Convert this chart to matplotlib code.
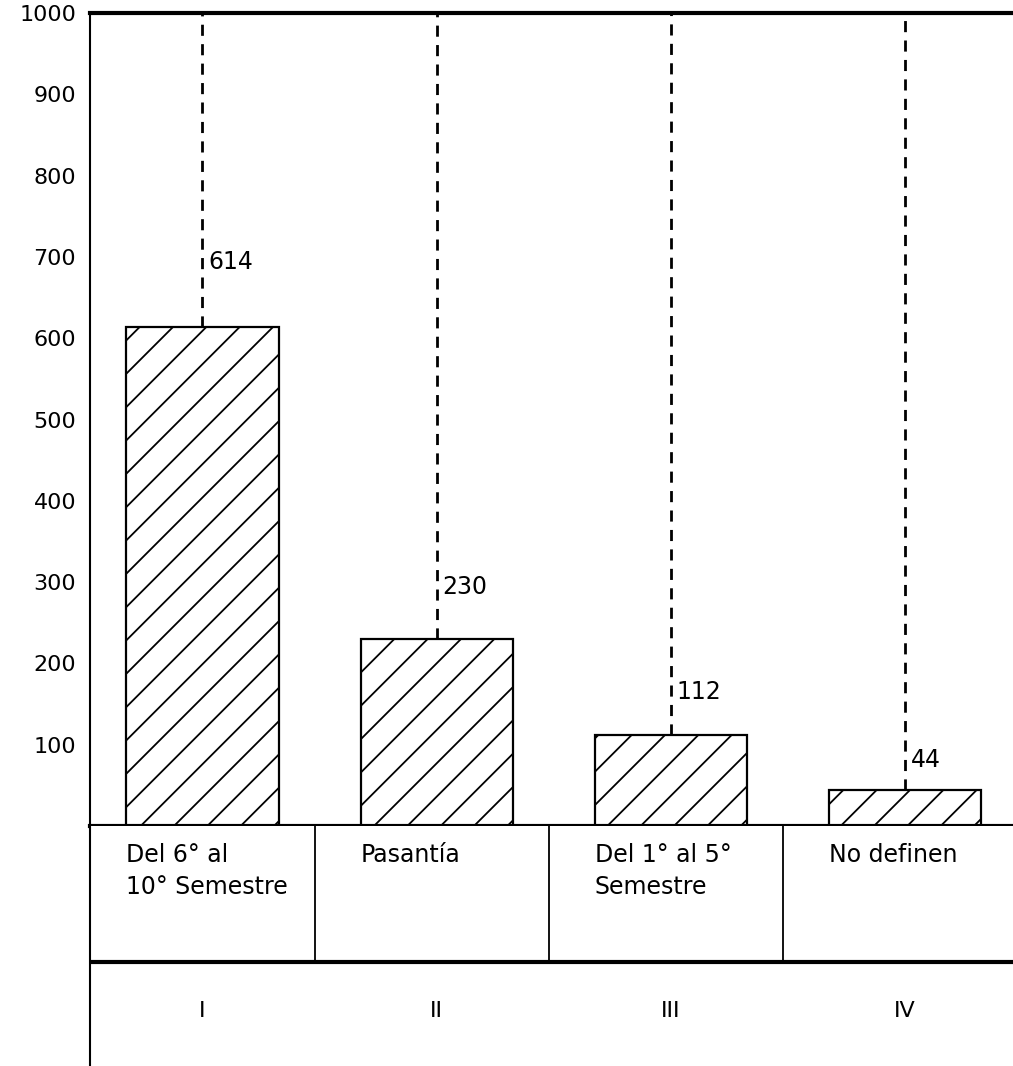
import numpy as np
import matplotlib.pyplot as plt

plt.rcParams['hatch.linewidth'] = 1.3

categories = ['Del 6° al\n10° Semestre', 'Pasantía', 'Del 1° al 5°\nSemestre', 'No definen']
roman = ['I', 'II', 'III', 'IV']
values = [614, 230, 112, 44]
value_labels = ['614', '230', '112', '44']
yticks = [100, 200, 300, 400, 500, 600, 700, 800, 900, 1000]

# gap (points) between the bar top and its number
label_gap = [38, 29, 22, 13]

W, H = 1013, 1066
fig = plt.figure(figsize=(W / 100, H / 100), dpi=100)

x = np.arange(len(values))
bw = 0.65

# main chart
ax = fig.add_axes([90 / W, (H - 826) / H, 923 / W, (826 - 13) / H])
ax.bar(x, values, bw, color='white', edgecolor='black', linewidth=1.6, hatch='/')
ax.vlines(x, values, 1000, colors='black', linestyles=(0, (4, 3)), linewidth=2)
for i, v in enumerate(values):
    ax.annotate(value_labels[i], (x[i], v), xytext=(4, label_gap[i]),
                textcoords='offset points', ha='left', va='bottom', fontsize=17)

ax.set_xlim(-0.48, 3.46)
ax.set_ylim(0, 1000)
ax.set_yticks(yticks)
ax.set_yticklabels([str(t) for t in yticks], fontsize=16)
ax.tick_params(axis='y', length=0, pad=10)
ax.set_xticks([])
ax.spines['right'].set_visible(False)
ax.spines['top'].set_linewidth(3)
ax.spines['bottom'].set_linewidth(3)
ax.spines['left'].set_linewidth(1.5)

# table below the bars
ax2 = fig.add_axes([90 / W, 0, 923 / W, 240 / H])
ax2.set_xlim(ax.get_xlim())
ax2.set_ylim(0, 1)
line_y = 104 / 240
ax2.axhline(line_y, color='black', linewidth=3)
ax2.vlines(x[:-1] + 0.48, line_y, 1, colors='black', linewidth=1.3)
for i in range(len(categories)):
    ax2.text(x[i] - bw / 2, 0.93, categories[i], ha='left', va='top',
             fontsize=17, linespacing=1.45)
    ax2.text(x[i], 0.23, roman[i], ha='center', va='center', fontsize=16)
ax2.set_xticks([])
ax2.set_yticks([])
for s in ['top', 'right', 'bottom']:
    ax2.spines[s].set_visible(False)
ax2.spines['left'].set_linewidth(1.5)

fig.savefig('out.png', dpi=100)
